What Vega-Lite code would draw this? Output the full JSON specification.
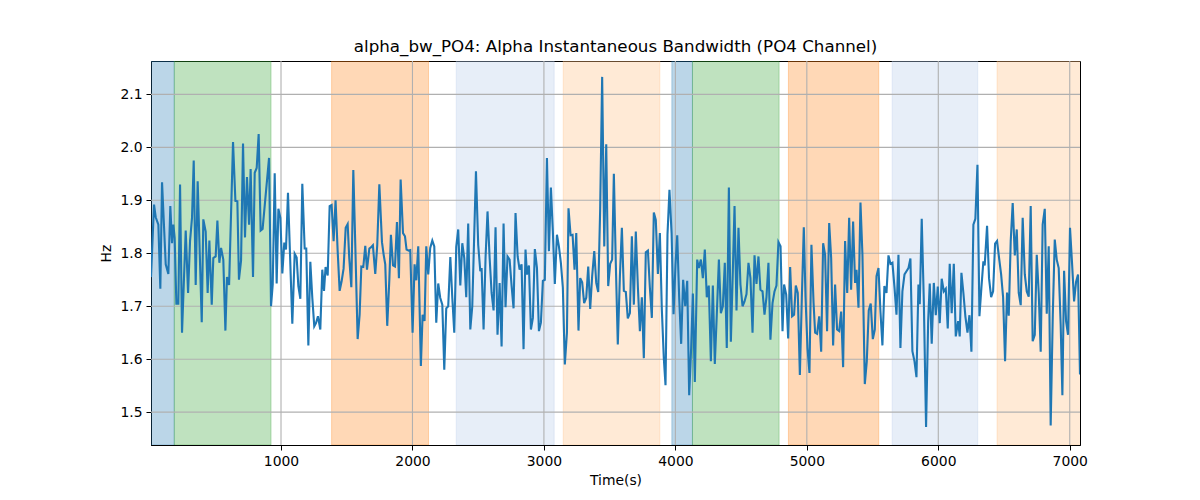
{
  "$schema": "https://vega.github.io/schema/vega-lite/v6.json",
  "autosize": "none",
  "width": 929,
  "height": 384,
  "padding": {"left": 151, "top": 61, "right": 120, "bottom": 55},
  "title": {
    "text": "alpha_bw_PO4: Alpha Instantaneous Bandwidth (PO4 Channel)",
    "font": "DejaVu Sans",
    "fontSize": 16.7,
    "fontWeight": "normal",
    "color": "black",
    "offset": 5
  },
  "datasets": {
    "spans": [
      {"start": 0, "end": 188, "kind": "blue"},
      {"start": 188, "end": 924, "kind": "green"},
      {"start": 1385, "end": 2122, "kind": "orange"},
      {"start": 2333, "end": 3078, "kind": "lightblue"},
      {"start": 3147, "end": 3882, "kind": "lightorange"},
      {"start": 3973, "end": 4130, "kind": "blue"},
      {"start": 4130, "end": 4789, "kind": "green"},
      {"start": 4860, "end": 5547, "kind": "orange"},
      {"start": 5649, "end": 6300, "kind": "lightblue"},
      {"start": 6447, "end": 7200, "kind": "lightorange"}
    ],
    "xgrid": [{"g": 1000}, {"g": 2000}, {"g": 3000}, {"g": 4000}, {"g": 5000}, {"g": 6000}, {"g": 7000}],
    "ygrid": [{"g": 1.5}, {"g": 1.6}, {"g": 1.7}, {"g": 1.8}, {"g": 1.9}, {"g": 2.0}, {"g": 2.1}],
    "bw": [
      {"t": 11, "v": 1.755}, {"t": 34, "v": 1.892}, {"t": 47, "v": 1.868}, {"t": 67, "v": 1.854},
      {"t": 82, "v": 1.733}, {"t": 95, "v": 1.934}, {"t": 123, "v": 1.779}, {"t": 143, "v": 1.761},
      {"t": 158, "v": 1.889}, {"t": 171, "v": 1.819}, {"t": 181, "v": 1.854}, {"t": 191, "v": 1.829},
      {"t": 204, "v": 1.705}, {"t": 219, "v": 1.705}, {"t": 232, "v": 1.930}, {"t": 247, "v": 1.650},
      {"t": 275, "v": 1.843}, {"t": 293, "v": 1.725}, {"t": 308, "v": 1.823}, {"t": 323, "v": 1.867},
      {"t": 336, "v": 1.975}, {"t": 351, "v": 1.740}, {"t": 366, "v": 1.936}, {"t": 397, "v": 1.670},
      {"t": 409, "v": 1.864}, {"t": 427, "v": 1.841}, {"t": 442, "v": 1.725}, {"t": 455, "v": 1.824},
      {"t": 473, "v": 1.703}, {"t": 485, "v": 1.791}, {"t": 503, "v": 1.794}, {"t": 516, "v": 1.862},
      {"t": 531, "v": 1.782}, {"t": 544, "v": 1.810}, {"t": 561, "v": 1.788}, {"t": 577, "v": 1.654},
      {"t": 589, "v": 1.755}, {"t": 605, "v": 1.740}, {"t": 635, "v": 2.010}, {"t": 653, "v": 1.899},
      {"t": 668, "v": 1.898}, {"t": 680, "v": 1.750}, {"t": 696, "v": 1.786}, {"t": 711, "v": 2.007},
      {"t": 726, "v": 1.830}, {"t": 741, "v": 1.944}, {"t": 757, "v": 1.854}, {"t": 769, "v": 1.959},
      {"t": 787, "v": 1.755}, {"t": 800, "v": 1.952}, {"t": 815, "v": 1.961}, {"t": 830, "v": 2.025},
      {"t": 845, "v": 1.843}, {"t": 860, "v": 1.846}, {"t": 909, "v": 1.980}, {"t": 924, "v": 1.700},
      {"t": 937, "v": 1.741}, {"t": 952, "v": 1.951}, {"t": 967, "v": 1.743}, {"t": 980, "v": 1.884},
      {"t": 995, "v": 1.867}, {"t": 1010, "v": 1.762}, {"t": 1025, "v": 1.820}, {"t": 1038, "v": 1.807},
      {"t": 1053, "v": 1.914}, {"t": 1086, "v": 1.667}, {"t": 1104, "v": 1.799}, {"t": 1119, "v": 1.792},
      {"t": 1132, "v": 1.738}, {"t": 1147, "v": 1.714}, {"t": 1162, "v": 1.931}, {"t": 1180, "v": 1.809},
      {"t": 1192, "v": 1.809}, {"t": 1208, "v": 1.626}, {"t": 1223, "v": 1.784}, {"t": 1238, "v": 1.716},
      {"t": 1253, "v": 1.662}, {"t": 1266, "v": 1.668}, {"t": 1281, "v": 1.681}, {"t": 1299, "v": 1.656},
      {"t": 1314, "v": 1.769}, {"t": 1327, "v": 1.729}, {"t": 1339, "v": 1.774}, {"t": 1355, "v": 1.758},
      {"t": 1370, "v": 1.889}, {"t": 1385, "v": 1.891}, {"t": 1400, "v": 1.823}, {"t": 1415, "v": 1.900},
      {"t": 1431, "v": 1.804}, {"t": 1446, "v": 1.729}, {"t": 1461, "v": 1.747}, {"t": 1476, "v": 1.771},
      {"t": 1492, "v": 1.848}, {"t": 1507, "v": 1.855}, {"t": 1519, "v": 1.791}, {"t": 1535, "v": 1.736},
      {"t": 1550, "v": 1.957}, {"t": 1565, "v": 1.816}, {"t": 1583, "v": 1.638}, {"t": 1598, "v": 1.684},
      {"t": 1611, "v": 1.775}, {"t": 1626, "v": 1.774}, {"t": 1641, "v": 1.814}, {"t": 1654, "v": 1.769},
      {"t": 1672, "v": 1.809}, {"t": 1684, "v": 1.811}, {"t": 1699, "v": 1.815}, {"t": 1717, "v": 1.761},
      {"t": 1732, "v": 1.815}, {"t": 1748, "v": 1.930}, {"t": 1768, "v": 1.821}, {"t": 1781, "v": 1.797},
      {"t": 1793, "v": 1.779}, {"t": 1808, "v": 1.663}, {"t": 1824, "v": 1.750}, {"t": 1836, "v": 1.835},
      {"t": 1852, "v": 1.777}, {"t": 1867, "v": 1.775}, {"t": 1882, "v": 1.859}, {"t": 1897, "v": 1.753},
      {"t": 1910, "v": 1.939}, {"t": 1928, "v": 1.838}, {"t": 1943, "v": 1.832}, {"t": 1955, "v": 1.807},
      {"t": 1971, "v": 1.805}, {"t": 1983, "v": 1.806}, {"t": 2001, "v": 1.650}, {"t": 2016, "v": 1.779},
      {"t": 2029, "v": 1.749}, {"t": 2044, "v": 1.813}, {"t": 2064, "v": 1.587}, {"t": 2077, "v": 1.684},
      {"t": 2092, "v": 1.672}, {"t": 2105, "v": 1.813}, {"t": 2120, "v": 1.760}, {"t": 2135, "v": 1.810},
      {"t": 2151, "v": 1.824}, {"t": 2166, "v": 1.813}, {"t": 2181, "v": 1.669}, {"t": 2196, "v": 1.743},
      {"t": 2211, "v": 1.716}, {"t": 2227, "v": 1.703}, {"t": 2242, "v": 1.580}, {"t": 2257, "v": 1.696},
      {"t": 2272, "v": 1.700}, {"t": 2288, "v": 1.793}, {"t": 2303, "v": 1.716}, {"t": 2318, "v": 1.650},
      {"t": 2333, "v": 1.812}, {"t": 2348, "v": 1.845}, {"t": 2364, "v": 1.739}, {"t": 2379, "v": 1.819},
      {"t": 2394, "v": 1.791}, {"t": 2409, "v": 1.717}, {"t": 2424, "v": 1.856}, {"t": 2440, "v": 1.656},
      {"t": 2455, "v": 1.700}, {"t": 2483, "v": 1.955}, {"t": 2500, "v": 1.816}, {"t": 2516, "v": 1.766},
      {"t": 2526, "v": 1.772}, {"t": 2541, "v": 1.656}, {"t": 2556, "v": 1.792}, {"t": 2571, "v": 1.879},
      {"t": 2587, "v": 1.791}, {"t": 2602, "v": 1.725}, {"t": 2617, "v": 1.692}, {"t": 2632, "v": 1.849},
      {"t": 2647, "v": 1.646}, {"t": 2663, "v": 1.744}, {"t": 2678, "v": 1.624}, {"t": 2693, "v": 1.856},
      {"t": 2708, "v": 1.698}, {"t": 2723, "v": 1.794}, {"t": 2739, "v": 1.788}, {"t": 2754, "v": 1.739},
      {"t": 2769, "v": 1.696}, {"t": 2784, "v": 1.876}, {"t": 2800, "v": 1.794}, {"t": 2815, "v": 1.769},
      {"t": 2830, "v": 1.779}, {"t": 2845, "v": 1.619}, {"t": 2860, "v": 1.807}, {"t": 2871, "v": 1.760},
      {"t": 2886, "v": 1.777}, {"t": 2901, "v": 1.656}, {"t": 2916, "v": 1.678}, {"t": 2931, "v": 1.808},
      {"t": 2947, "v": 1.772}, {"t": 2962, "v": 1.653}, {"t": 2977, "v": 1.669}, {"t": 2992, "v": 1.748},
      {"t": 3007, "v": 1.750}, {"t": 3023, "v": 1.980}, {"t": 3038, "v": 1.804}, {"t": 3053, "v": 1.924},
      {"t": 3068, "v": 1.841}, {"t": 3083, "v": 1.742}, {"t": 3099, "v": 1.835}, {"t": 3114, "v": 1.813},
      {"t": 3129, "v": 1.782}, {"t": 3144, "v": 1.735}, {"t": 3159, "v": 1.590}, {"t": 3175, "v": 1.650},
      {"t": 3187, "v": 1.885}, {"t": 3203, "v": 1.834}, {"t": 3218, "v": 1.835}, {"t": 3233, "v": 1.769},
      {"t": 3246, "v": 1.838}, {"t": 3263, "v": 1.654}, {"t": 3276, "v": 1.753}, {"t": 3291, "v": 1.745},
      {"t": 3306, "v": 1.706}, {"t": 3322, "v": 1.716}, {"t": 3337, "v": 1.775}, {"t": 3352, "v": 1.695},
      {"t": 3367, "v": 1.757}, {"t": 3383, "v": 1.804}, {"t": 3398, "v": 1.744}, {"t": 3413, "v": 1.727},
      {"t": 3428, "v": 1.884}, {"t": 3443, "v": 2.133}, {"t": 3459, "v": 1.813}, {"t": 3474, "v": 2.006},
      {"t": 3489, "v": 1.738}, {"t": 3504, "v": 1.780}, {"t": 3519, "v": 1.788}, {"t": 3532, "v": 1.950},
      {"t": 3547, "v": 1.779}, {"t": 3562, "v": 1.628}, {"t": 3578, "v": 1.757}, {"t": 3593, "v": 1.848},
      {"t": 3608, "v": 1.729}, {"t": 3623, "v": 1.727}, {"t": 3638, "v": 1.677}, {"t": 3654, "v": 1.687},
      {"t": 3669, "v": 1.832}, {"t": 3684, "v": 1.703}, {"t": 3699, "v": 1.841}, {"t": 3715, "v": 1.735},
      {"t": 3730, "v": 1.653}, {"t": 3745, "v": 1.717}, {"t": 3760, "v": 1.602}, {"t": 3775, "v": 1.802},
      {"t": 3791, "v": 1.805}, {"t": 3806, "v": 1.735}, {"t": 3821, "v": 1.678}, {"t": 3836, "v": 1.877},
      {"t": 3851, "v": 1.863}, {"t": 3867, "v": 1.761}, {"t": 3882, "v": 1.838}, {"t": 3897, "v": 1.694},
      {"t": 3912, "v": 1.602}, {"t": 3925, "v": 1.551}, {"t": 3940, "v": 1.835}, {"t": 3955, "v": 1.920},
      {"t": 3971, "v": 1.838}, {"t": 3986, "v": 1.685}, {"t": 4001, "v": 1.779}, {"t": 4014, "v": 1.834},
      {"t": 4029, "v": 1.716}, {"t": 4044, "v": 1.629}, {"t": 4059, "v": 1.750}, {"t": 4075, "v": 1.700},
      {"t": 4090, "v": 1.748}, {"t": 4105, "v": 1.532}, {"t": 4120, "v": 1.621}, {"t": 4133, "v": 1.724},
      {"t": 4148, "v": 1.557}, {"t": 4166, "v": 1.788}, {"t": 4178, "v": 1.772}, {"t": 4194, "v": 1.788},
      {"t": 4209, "v": 1.753}, {"t": 4224, "v": 1.807}, {"t": 4239, "v": 1.717}, {"t": 4254, "v": 1.739},
      {"t": 4270, "v": 1.596}, {"t": 4285, "v": 1.739}, {"t": 4300, "v": 1.591}, {"t": 4315, "v": 1.684},
      {"t": 4331, "v": 1.788}, {"t": 4346, "v": 1.687}, {"t": 4361, "v": 1.700}, {"t": 4376, "v": 1.782},
      {"t": 4391, "v": 1.621}, {"t": 4407, "v": 1.924}, {"t": 4422, "v": 1.633}, {"t": 4437, "v": 1.766},
      {"t": 4450, "v": 1.889}, {"t": 4465, "v": 1.692}, {"t": 4480, "v": 1.848}, {"t": 4495, "v": 1.741},
      {"t": 4511, "v": 1.700}, {"t": 4526, "v": 1.709}, {"t": 4541, "v": 1.723}, {"t": 4556, "v": 1.782},
      {"t": 4571, "v": 1.753}, {"t": 4587, "v": 1.650}, {"t": 4602, "v": 1.796}, {"t": 4617, "v": 1.742},
      {"t": 4632, "v": 1.794}, {"t": 4647, "v": 1.731}, {"t": 4663, "v": 1.728}, {"t": 4678, "v": 1.684},
      {"t": 4693, "v": 1.717}, {"t": 4708, "v": 1.782}, {"t": 4723, "v": 1.637}, {"t": 4739, "v": 1.706},
      {"t": 4754, "v": 1.728}, {"t": 4769, "v": 1.739}, {"t": 4784, "v": 1.821}, {"t": 4800, "v": 1.813},
      {"t": 4815, "v": 1.653}, {"t": 4827, "v": 1.741}, {"t": 4843, "v": 1.722}, {"t": 4858, "v": 1.639},
      {"t": 4873, "v": 1.774}, {"t": 4888, "v": 1.681}, {"t": 4903, "v": 1.684}, {"t": 4916, "v": 1.739},
      {"t": 4931, "v": 1.725}, {"t": 4947, "v": 1.570}, {"t": 4962, "v": 1.716}, {"t": 4977, "v": 1.849},
      {"t": 4990, "v": 1.717}, {"t": 5005, "v": 1.621}, {"t": 5020, "v": 1.574}, {"t": 5035, "v": 1.816},
      {"t": 5051, "v": 1.707}, {"t": 5063, "v": 1.650}, {"t": 5078, "v": 1.648}, {"t": 5094, "v": 1.681},
      {"t": 5109, "v": 1.614}, {"t": 5124, "v": 1.819}, {"t": 5139, "v": 1.797}, {"t": 5154, "v": 1.653},
      {"t": 5170, "v": 1.857}, {"t": 5185, "v": 1.791}, {"t": 5200, "v": 1.626}, {"t": 5215, "v": 1.741},
      {"t": 5230, "v": 1.656}, {"t": 5246, "v": 1.653}, {"t": 5261, "v": 1.690}, {"t": 5276, "v": 1.585},
      {"t": 5291, "v": 1.823}, {"t": 5307, "v": 1.725}, {"t": 5322, "v": 1.867}, {"t": 5337, "v": 1.731},
      {"t": 5352, "v": 1.860}, {"t": 5367, "v": 1.744}, {"t": 5378, "v": 1.769}, {"t": 5393, "v": 1.697},
      {"t": 5408, "v": 1.896}, {"t": 5423, "v": 1.797}, {"t": 5441, "v": 1.553}, {"t": 5456, "v": 1.596},
      {"t": 5471, "v": 1.692}, {"t": 5486, "v": 1.705}, {"t": 5502, "v": 1.638}, {"t": 5517, "v": 1.656},
      {"t": 5530, "v": 1.757}, {"t": 5545, "v": 1.772}, {"t": 5560, "v": 1.690}, {"t": 5575, "v": 1.626},
      {"t": 5590, "v": 1.738}, {"t": 5606, "v": 1.725}, {"t": 5621, "v": 1.796}, {"t": 5636, "v": 1.780},
      {"t": 5651, "v": 1.782}, {"t": 5667, "v": 1.735}, {"t": 5682, "v": 1.684}, {"t": 5697, "v": 1.797},
      {"t": 5712, "v": 1.621}, {"t": 5727, "v": 1.728}, {"t": 5743, "v": 1.760}, {"t": 5758, "v": 1.766},
      {"t": 5773, "v": 1.772}, {"t": 5788, "v": 1.790}, {"t": 5803, "v": 1.615}, {"t": 5819, "v": 1.596},
      {"t": 5834, "v": 1.566}, {"t": 5849, "v": 1.741}, {"t": 5859, "v": 1.704}, {"t": 5874, "v": 1.865},
      {"t": 5890, "v": 1.709}, {"t": 5907, "v": 1.472}, {"t": 5923, "v": 1.672}, {"t": 5935, "v": 1.743},
      {"t": 5950, "v": 1.629}, {"t": 5966, "v": 1.744}, {"t": 5981, "v": 1.683}, {"t": 5996, "v": 1.737},
      {"t": 6011, "v": 1.668}, {"t": 6026, "v": 1.752}, {"t": 6042, "v": 1.728}, {"t": 6057, "v": 1.733},
      {"t": 6072, "v": 1.658}, {"t": 6087, "v": 1.780}, {"t": 6102, "v": 1.687}, {"t": 6118, "v": 1.780},
      {"t": 6133, "v": 1.643}, {"t": 6151, "v": 1.672}, {"t": 6163, "v": 1.643}, {"t": 6176, "v": 1.763},
      {"t": 6191, "v": 1.725}, {"t": 6206, "v": 1.681}, {"t": 6222, "v": 1.650}, {"t": 6237, "v": 1.683},
      {"t": 6252, "v": 1.614}, {"t": 6267, "v": 1.854}, {"t": 6282, "v": 1.865}, {"t": 6298, "v": 1.967},
      {"t": 6313, "v": 1.681}, {"t": 6328, "v": 1.735}, {"t": 6343, "v": 1.785}, {"t": 6353, "v": 1.777},
      {"t": 6371, "v": 1.852}, {"t": 6386, "v": 1.753}, {"t": 6402, "v": 1.717}, {"t": 6417, "v": 1.728},
      {"t": 6432, "v": 1.818}, {"t": 6447, "v": 1.823}, {"t": 6462, "v": 1.792}, {"t": 6478, "v": 1.760},
      {"t": 6493, "v": 1.717}, {"t": 6508, "v": 1.596}, {"t": 6523, "v": 1.726}, {"t": 6536, "v": 1.682},
      {"t": 6551, "v": 1.823}, {"t": 6566, "v": 1.895}, {"t": 6582, "v": 1.796}, {"t": 6597, "v": 1.845},
      {"t": 6612, "v": 1.725}, {"t": 6627, "v": 1.702}, {"t": 6642, "v": 1.867}, {"t": 6658, "v": 1.760},
      {"t": 6673, "v": 1.728}, {"t": 6688, "v": 1.718}, {"t": 6703, "v": 1.889}, {"t": 6718, "v": 1.634},
      {"t": 6734, "v": 1.646}, {"t": 6749, "v": 1.797}, {"t": 6764, "v": 1.725}, {"t": 6779, "v": 1.614},
      {"t": 6794, "v": 1.854}, {"t": 6810, "v": 1.884}, {"t": 6825, "v": 1.686}, {"t": 6840, "v": 1.813},
      {"t": 6855, "v": 1.475}, {"t": 6871, "v": 1.684}, {"t": 6886, "v": 1.826}, {"t": 6901, "v": 1.788},
      {"t": 6916, "v": 1.772}, {"t": 6931, "v": 1.665}, {"t": 6944, "v": 1.532}, {"t": 6957, "v": 1.767},
      {"t": 6972, "v": 1.672}, {"t": 6987, "v": 1.646}, {"t": 7002, "v": 1.848}, {"t": 7018, "v": 1.779},
      {"t": 7033, "v": 1.709}, {"t": 7048, "v": 1.746}, {"t": 7063, "v": 1.760}, {"t": 7078, "v": 1.571}
    ]
  },
  "layer": [
    {
      "data": {"name": "spans"},
      "mark": {"type": "rect", "fillOpacity": 0.3, "strokeOpacity": 0.3, "strokeWidth": 1, "clip": true},
      "encoding": {
        "x": {
          "field": "start",
          "type": "quantitative",
          "scale": {"domain": [11, 7078], "nice": false, "zero": false},
          "axis": {"values": [1000, 2000, 3000, 4000, 5000, 6000, 7000], "format": "d", "title": "Time(s)"}
        },
        "x2": {"field": "end"},
        "color": {
          "field": "kind",
          "type": "nominal",
          "scale": {
            "domain": ["blue", "green", "orange", "lightblue", "lightorange"],
            "range": ["#1f77b4", "#2ca02c", "#ff7f0e", "#aec7e8", "#ffbb78"]
          },
          "legend": null
        },
        "stroke": {
          "field": "kind",
          "type": "nominal",
          "scale": {
            "domain": ["blue", "green", "orange", "lightblue", "lightorange"],
            "range": ["#1f77b4", "#2ca02c", "#ff7f0e", "#aec7e8", "#ffbb78"]
          },
          "legend": null
        }
      }
    },
    {
      "data": {"name": "xgrid"},
      "mark": {"type": "rule", "color": "#b0b0b0", "strokeWidth": 1.1},
      "encoding": {"x": {"field": "g", "type": "quantitative"}}
    },
    {
      "data": {"name": "ygrid"},
      "mark": {"type": "rule", "color": "#b0b0b0", "strokeWidth": 1.1},
      "encoding": {"y": {"field": "g", "type": "quantitative"}}
    },
    {
      "data": {"name": "bw"},
      "mark": {"type": "line", "color": "#1f77b4", "strokeWidth": 2.1, "clip": true},
      "encoding": {
        "x": {"field": "t", "type": "quantitative"},
        "y": {
          "field": "v",
          "type": "quantitative",
          "scale": {"domain": [1.438, 2.163], "nice": false, "zero": false},
          "axis": {"values": [1.5, 1.6, 1.7, 1.8, 1.9, 2.0, 2.1], "format": ".1f", "title": "Hz"}
        }
      }
    }
  ],
  "config": {
    "font": "DejaVu Sans",
    "view": {"stroke": "black", "strokeWidth": 1},
    "axis": {
      "grid": false,
      "domainColor": "black",
      "tickColor": "black",
      "tickSize": 5,
      "tickWidth": 1,
      "labelColor": "black",
      "labelFont": "DejaVu Sans",
      "labelFontSize": 13.9,
      "labelPadding": 4,
      "titleColor": "black",
      "titleFont": "DejaVu Sans",
      "titleFontSize": 13.9,
      "titleFontWeight": "normal",
      "titlePadding": 6
    }
  }
}
